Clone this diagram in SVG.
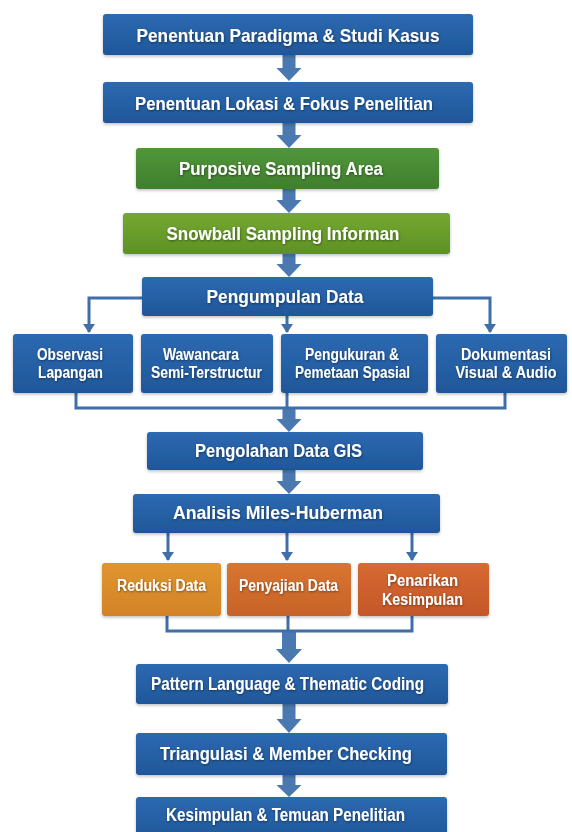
<svg xmlns="http://www.w3.org/2000/svg" width="572" height="832" viewBox="0 0 572 832">
<defs>
<linearGradient id="gBlue" x1="0" y1="0" x2="0" y2="1"><stop offset="0" stop-color="#2d69b1"/><stop offset="1" stop-color="#1f5799"/></linearGradient>
<linearGradient id="gGreen1" x1="0" y1="0" x2="0" y2="1"><stop offset="0" stop-color="#51963a"/><stop offset="1" stop-color="#3f7f2e"/></linearGradient>
<linearGradient id="gGreen2" x1="0" y1="0" x2="0" y2="1"><stop offset="0" stop-color="#74a831"/><stop offset="1" stop-color="#5e9125"/></linearGradient>
<linearGradient id="gOr1" x1="0" y1="0" x2="0" y2="1"><stop offset="0" stop-color="#e0952f"/><stop offset="1" stop-color="#d38327"/></linearGradient>
<linearGradient id="gOr2" x1="0" y1="0" x2="0" y2="1"><stop offset="0" stop-color="#d8752f"/><stop offset="1" stop-color="#c7632a"/></linearGradient>
<linearGradient id="gOr3" x1="0" y1="0" x2="0" y2="1"><stop offset="0" stop-color="#d66a30"/><stop offset="1" stop-color="#c4572a"/></linearGradient>
<filter id="sh" x="-10%" y="-20%" width="120%" height="150%"><feDropShadow dx="0" dy="1.5" stdDeviation="1.5" flood-color="#000" flood-opacity="0.25"/></filter>
<filter id="ts" x="-5%" y="-30%" width="110%" height="160%"><feDropShadow dx="0.5" dy="1" stdDeviation="0.8" flood-color="#000" flood-opacity="0.45"/></filter>
<marker id="ah" markerWidth="9" markerHeight="12" refX="8" refY="6" orient="auto" markerUnits="userSpaceOnUse" viewBox="0 0 9 12">
<path d="M0,0 L9,6 L0,12 Z" fill="#3f6ea9"/>
</marker>
</defs>
<style>
.box{filter:url(#sh);}
.blue{fill:url(#gBlue);}
.t{font-family:"Liberation Sans",Arial,sans-serif;font-weight:bold;fill:#ffffff;text-anchor:middle;filter:url(#ts);}
.m{font-size:19px;}
.s{font-size:16px;}
.ln{fill:none;stroke:#3f6ea9;stroke-width:3;}
.fa{fill:#4a78b0;}
</style>
<rect width="572" height="832" fill="#ffffff"/>

<g id="connectors">
<path class="fa" d="M282.5,55 H295.5 V68 H301.5 L289,81 L276.5,68 H282.5 Z"/>
<path class="fa" d="M282.5,123 H295.5 V135 H301.5 L289,148 L276.5,135 H282.5 Z"/>
<path class="fa" d="M282.5,189 H295.5 V200 H301.5 L289,213 L276.5,200 H282.5 Z"/>
<path class="fa" d="M282.5,254 H295.5 V264 H301.5 L289,277 L276.5,264 H282.5 Z"/>
<path class="fa" d="M282.5,408 H295.5 V419 H301.5 L289,432 L276.5,419 H282.5 Z"/>
<path class="fa" d="M282.5,470 H295.5 V481 H301.5 L289,494 L276.5,481 H282.5 Z"/>
<path class="fa" d="M282,631 H296 V649 H302 L289,663 L276,649 H282 Z"/>
<path class="fa" d="M282.5,704 H295.5 V719 H301.5 L289,733 L276.5,719 H282.5 Z"/>
<path class="fa" d="M282.5,775 H295.5 V785 H301.5 L289,797 L276.5,785 H282.5 Z"/>
<path class="ln" d="M142,298 H89 V332" marker-end="url(#ah)"/>
<path class="ln" d="M433,298 H490 V332" marker-end="url(#ah)"/>
<path class="ln" d="M287,316 V332" marker-end="url(#ah)"/>
<path class="ln" d="M76,393 V408 H505 V393"/>
<path class="ln" d="M287,393 V408"/>
<path class="ln" d="M168,533 V560" marker-end="url(#ah)"/>
<path class="ln" d="M287,533 V560" marker-end="url(#ah)"/>
<path class="ln" d="M412,533 V560" marker-end="url(#ah)"/>
<path class="ln" d="M167,616 V631 H412 V616"/>
<path class="ln" d="M288,616 V631"/>
</g>

<g id="n1"><rect class="box blue" x="103" y="14" width="370" height="41" rx="3"/><text class="t m" x="288" y="42" textLength="303" lengthAdjust="spacingAndGlyphs">Penentuan Paradigma &amp; Studi Kasus</text></g>
<g id="n2"><rect class="box blue" x="103" y="82" width="370" height="41" rx="3"/><text class="t m" x="284" y="110" textLength="298" lengthAdjust="spacingAndGlyphs">Penentuan Lokasi &amp; Fokus Penelitian</text></g>
<g id="n3"><rect class="box" fill="url(#gGreen1)" x="136" y="148" width="303" height="41" rx="3"/><text class="t m" x="281" y="175" textLength="204" lengthAdjust="spacingAndGlyphs">Purposive Sampling Area</text></g>
<g id="n4"><rect class="box" fill="url(#gGreen2)" x="123" y="213" width="327" height="41" rx="3"/><text class="t m" x="283" y="240" textLength="233" lengthAdjust="spacingAndGlyphs">Snowball Sampling Informan</text></g>
<g id="n5"><rect class="box blue" x="142" y="277" width="291" height="39" rx="3"/><text class="t m" x="285" y="303" textLength="157" lengthAdjust="spacingAndGlyphs">Pengumpulan Data</text></g>

<g id="n6"><rect class="box blue" x="13" y="334" width="120" height="59" rx="3"/><text class="t s" x="70" y="360" textLength="66" lengthAdjust="spacingAndGlyphs">Observasi</text><text class="t s" x="70.5" y="378" textLength="65" lengthAdjust="spacingAndGlyphs">Lapangan</text></g>
<g id="n7"><rect class="box blue" x="141" y="334" width="132" height="59" rx="3"/><text class="t s" x="201" y="360" textLength="76" lengthAdjust="spacingAndGlyphs">Wawancara</text><text class="t s" x="206.5" y="378" textLength="111" lengthAdjust="spacingAndGlyphs">Semi-Terstructur</text></g>
<g id="n8"><rect class="box blue" x="281" y="334" width="147" height="59" rx="3"/><text class="t s" x="352" y="360" textLength="94" lengthAdjust="spacingAndGlyphs">Pengukuran &amp;</text><text class="t s" x="352.5" y="378" textLength="115" lengthAdjust="spacingAndGlyphs">Pemetaan Spasial</text></g>
<g id="n9"><rect class="box blue" x="436" y="334" width="131" height="59" rx="3"/><text class="t s" x="506" y="360" textLength="90" lengthAdjust="spacingAndGlyphs">Dokumentasi</text><text class="t s" x="506" y="378" textLength="101" lengthAdjust="spacingAndGlyphs">Visual &amp; Audio</text></g>

<g id="n10"><rect class="box blue" x="147" y="432" width="276" height="38" rx="3"/><text class="t m" x="278.5" y="457" textLength="167" lengthAdjust="spacingAndGlyphs">Pengolahan Data GIS</text></g>
<g id="n11"><rect class="box blue" x="133" y="494" width="307" height="39" rx="3"/><text class="t m" x="278" y="519" textLength="210" lengthAdjust="spacingAndGlyphs">Analisis Miles-Huberman</text></g>

<g id="n12"><rect class="box" fill="url(#gOr1)" x="102" y="563" width="119" height="53" rx="3"/><text class="t s" x="161.5" y="591" textLength="89" lengthAdjust="spacingAndGlyphs">Reduksi Data</text></g>
<g id="n13"><rect class="box" fill="url(#gOr2)" x="227" y="563" width="124" height="53" rx="3"/><text class="t s" x="288.5" y="591" textLength="99" lengthAdjust="spacingAndGlyphs">Penyajian Data</text></g>
<g id="n14"><rect class="box" fill="url(#gOr3)" x="358" y="563" width="131" height="53" rx="3"/><text class="t s" x="422.5" y="586" textLength="71" lengthAdjust="spacingAndGlyphs">Penarikan</text><text class="t s" x="422.5" y="605" textLength="81" lengthAdjust="spacingAndGlyphs">Kesimpulan</text></g>

<g id="n15"><rect class="box blue" x="136" y="664" width="312" height="40" rx="3"/><text class="t m" x="287.5" y="690" textLength="273" lengthAdjust="spacingAndGlyphs">Pattern Language &amp; Thematic Coding</text></g>
<g id="n16"><rect class="box blue" x="136" y="733" width="311" height="42" rx="3"/><text class="t m" x="286" y="760" textLength="252" lengthAdjust="spacingAndGlyphs">Triangulasi &amp; Member Checking</text></g>
<g id="n17"><rect class="box blue" x="136" y="797" width="311" height="42" rx="3"/><text class="t m" x="285.5" y="821" textLength="239" lengthAdjust="spacingAndGlyphs">Kesimpulan &amp; Temuan Penelitian</text></g>
</svg>
